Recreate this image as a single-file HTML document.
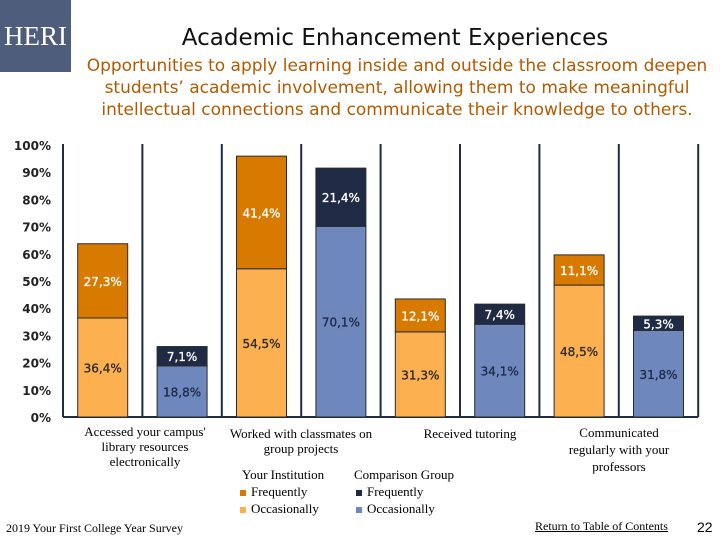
<!DOCTYPE html>
<html><head><meta charset="utf-8"><style>
body{margin:0;width:720px;height:540px;background:#fff;overflow:hidden;position:relative;font-family:"Liberation Sans",sans-serif}
.abs{position:absolute}
.t{font-family:"DejaVu Sans","Liberation Sans",sans-serif}
.serif{font-family:"Liberation Serif",serif;color:#000}
</style></head><body>
<div class="abs" style="left:0;top:0;width:71px;height:72px;background:#4e5d7c;color:#fff;font-family:'Liberation Serif',serif;font-size:27px;line-height:72px;text-align:center">HERI</div>
<div class="abs t" style="left:140px;top:25px;width:510px;text-align:center;font-size:23px;color:#111">Academic Enhancement Experiences</div>
<div class="abs t" style="left:72px;top:55px;width:650px;text-align:center;font-size:17px;line-height:22px;color:#b35a00">Opportunities to apply learning inside and outside the classroom deepen students’ academic involvement, allowing them to make meaningful intellectual connections and communicate their knowledge to others.</div>
<svg class="abs" style="left:0;top:0" width="720" height="540" id="chart"></svg>
<div class="abs serif" style="left:70px;top:424px;width:150px;text-align:center;font-size:13px;line-height:15px">Accessed your campus' library resources electronically</div>
<div class="abs serif" style="left:226px;top:426px;width:150px;text-align:center;font-size:13px;line-height:15px">Worked with classmates on group projects</div>
<div class="abs serif" style="left:390px;top:426px;width:160px;text-align:center;font-size:13px">Received tutoring</div>
<div class="abs serif" style="left:560px;top:424px;width:118px;text-align:center;font-size:13px;line-height:17px">Communicated regularly with your professors</div>
<div class="abs serif" style="left:240px;top:466px;font-size:13px;line-height:17px">
<div style="position:absolute;left:2px;top:0;white-space:nowrap">Your Institution</div>
<div style="position:absolute;left:114px;top:0;white-space:nowrap">Comparison Group</div>
<div style="position:absolute;left:0;top:17px;white-space:nowrap"><span style="display:inline-block;width:6px;height:6px;background:#d97a00;margin-right:5px"></span>Frequently</div>
<div style="position:absolute;left:0;top:34px;white-space:nowrap"><span style="display:inline-block;width:6px;height:6px;background:#fdb04f;margin-right:5px"></span>Occasionally</div>
<div style="position:absolute;left:116px;top:17px;white-space:nowrap"><span style="display:inline-block;width:6px;height:6px;background:#1f2a44;margin-right:5px"></span>Frequently</div>
<div style="position:absolute;left:116px;top:34px;white-space:nowrap"><span style="display:inline-block;width:6px;height:6px;background:#6e88be;margin-right:5px"></span>Occasionally</div>
</div>
<div class="abs serif" style="left:6px;top:521px;font-size:12px">2019 Your First College Year Survey</div>
<div class="abs serif" style="left:535px;top:519px;font-size:12px;text-decoration:underline">Return to Table of Contents</div>
<div class="abs" style="left:697px;top:519px;font-size:14px;font-family:'Liberation Sans',sans-serif">22</div>
<script>
const categories=["Accessed library","Group projects","Tutoring","Professors"];
const instOccasionally=[36.4,54.5,31.3,48.5];
const instFrequently=[27.3,41.4,12.1,11.1];
const compOccasionally=[18.8,70.1,34.1,31.8];
const compFrequently=[7.1,21.4,7.4,5.3];
const yTicks=[0,10,20,30,40,50,60,70,80,90,100];
const NS="http://www.w3.org/2000/svg";
const svg=document.getElementById('chart');
const x0=63,slot=79.4,base=417,top100=145,bw=50;
const y=v=>base-(base-top100)*v/100;
function mk(tag,attrs){const e=document.createElementNS(NS,tag);for(const k in attrs)e.setAttribute(k,attrs[k]);svg.appendChild(e);return e;}
function fmt(v){return v.toFixed(1).replace('.',',')+'%';}
yTicks.forEach(t=>{const e=mk('text',{x:51,y:y(t)+5,'text-anchor':'end','font-size':12,'font-weight':'bold','font-family':'DejaVu Sans,sans-serif',fill:'#222'});e.textContent=t+'%';

});
for(let i=0;i<=8;i++){const l=mk('line',{x1:x0+i*slot,x2:x0+i*slot,y1:y(100)-1,y2:base,stroke:'#1f2a44','stroke-width':2});

}
const ax=mk('line',{x1:x0,x2:x0+8*slot,y1:base,y2:base,stroke:'#1f2a44','stroke-width':2});


function seg(slotI,v0,v1,fill,tc,name){const bx=x0+slotI*slot+(slot-bw)/2;
const r=mk('rect',{x:bx,y:y(v0+v1),width:bw,height:y(v0)-y(v0+v1),fill:fill,stroke:'#2a2a2a','stroke-width':1});


const tx=mk('text',{x:bx+bw/2,y:(y(v0)+y(v0+v1))/2+5,'text-anchor':'middle','font-size':12,'font-family':'DejaVu Sans,sans-serif','stroke':tc,'stroke-width':0.3,fill:tc});tx.textContent=fmt(v1);

}
categories.forEach((c,i)=>{
seg(2*i,0,instOccasionally[i],'#fdb04f','#2a2a2a','bar-inst-occasionally');
seg(2*i,instOccasionally[i],instFrequently[i],'#d97a00','#fff','bar-inst-frequently');
seg(2*i+1,0,compOccasionally[i],'#6e88be','#1f2a44','bar-comp-occasionally');
seg(2*i+1,compOccasionally[i],compFrequently[i],'#1f2a44','#fff','bar-comp-frequently');
});
</script>
</body></html>
